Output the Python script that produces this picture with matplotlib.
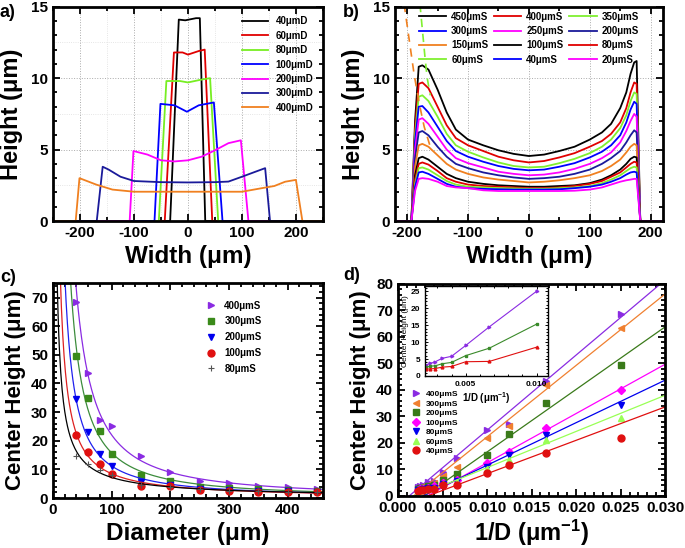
import numpy as np
import matplotlib
matplotlib.use("Agg")
import matplotlib.pyplot as plt
from matplotlib.ticker import MultipleLocator, FormatStrFormatter

plt.rcParams["font.family"] = ["Liberation Sans", "DejaVu Sans"]
plt.rcParams["font.weight"] = "bold"
plt.rcParams["axes.labelweight"] = "bold"
plt.rcParams["axes.unicode_minus"] = False
plt.rcParams["mathtext.fontset"] = "custom"
plt.rcParams["mathtext.rm"] = "Liberation Sans:bold"
plt.rcParams["mathtext.bf"] = "Liberation Sans:bold"
plt.rcParams["mathtext.default"] = "bf"

# ---- panel a: profiles of single dots ----
a_labels = ["40μmD", "60μmD", "80μmD", "100μmD", "200μmD", "300μmD", "400μmD"]
a_colors = ["black", "#e00000", "#77ee22", "#0000ff", "#ff00ff", "#1a1a9a", "#f08020"]
a_x40 = [-250, -33, -17, -5, 15, 22, 32, 250]
a_y40 = [0, 0, 14.1, 14.05, 14.2, 14.2, 0, 0]
a_x60 = [-250, -43, -26, -10, 0, 20, 31, 45, 250]
a_y60 = [0, 0, 11.8, 11.8, 11.65, 11.9, 12.0, 0, 0]
a_x80 = [-250, -54, -40, -15, 0, 25, 41, 56, 250]
a_y80 = [0, 0, 9.8, 9.8, 9.7, 9.9, 10.0, 0, 0]
a_x100 = [-250, -62, -51, -25, -2, 20, 48, 64, 250]
a_y100 = [0, 0, 8.2, 8.1, 7.65, 8.1, 8.3, 0, 0]
a_x200 = [-250, -108, -101, -75, -50, -25, 0, 25, 50, 75, 98, 112, 250]
a_y200 = [0, 0, 4.9, 4.65, 4.25, 4.17, 4.25, 4.5, 4.95, 5.45, 5.65, 0, 0]
a_x300 = [-250, -169, -158, -147, -125, -100, -50, 0, 50, 75, 100, 125, 143, 152, 250]
a_y300 = [0, 0, 3.8, 3.6, 3.1, 2.8, 2.72, 2.7, 2.72, 2.76, 3.1, 3.45, 3.7, 0, 0]
a_x400 = [-250, -208, -201, -170, -140, -100, 0, 100, 137, 160, 180, 200, 212, 250]
a_y400 = [0, 0, 3.0, 2.55, 2.2, 2.05, 2.05, 2.05, 2.3, 2.45, 2.75, 2.88, 0, 0]
a_xs = [a_x40, a_x60, a_x80, a_x100, a_x200, a_x300, a_x400]
a_ys = [a_y40, a_y60, a_y80, a_y100, a_y200, a_y300, a_y400]

# ---- panel b: profiles of 200 um dots ----
b_labels = ["450μmS", "400μmS", "350μmS", "300μmS", "250μmS", "200μmS",
            "150μmS", "100μmS", "80μmS", "60μmS", "40μmS", "20μmS"]
b_colors = ["black", "#e00000", "#80f030", "#0000ff", "#ff00ff", "#1a1a9a",
            "#f08020", "black", "#e00000", "#80f030", "#0000ff", "#ff00ff"]
b_x = [-220, -193, -187, -181, -175, -165, -150, -135, -120, -100, -75, -50, -25, 0,
       25, 50, 75, 100, 120, 135, 150, 160, 167, 173, 177, 183, 220]
b_y450 = [0, 0, 7.0, 10.8, 10.9, 10.6, 9.2, 7.6, 6.4, 5.7, 5.3, 4.95, 4.7, 4.55,
          4.65, 4.9, 5.2, 5.7, 6.2, 6.8, 7.9, 9.0, 10.3, 11.1, 11.2, 0, 0]
b_y400 = [0, 0, 6.5, 9.6, 9.7, 9.3, 8.0, 6.7, 5.8, 5.3, 4.9, 4.5, 4.25, 4.1,
          4.2, 4.45, 4.75, 5.2, 5.6, 6.1, 6.9, 7.9, 9.0, 9.7, 9.6, 0, 0]
b_y350 = [0, 0, 6.0, 8.7, 8.8, 8.4, 7.3, 6.1, 5.3, 4.85, 4.45, 4.1, 3.85, 3.75,
          3.8, 4.05, 4.35, 4.75, 5.2, 5.7, 6.5, 7.4, 8.4, 9.0, 8.9, 0, 0]
b_y300 = [0, 0, 5.6, 8.0, 8.05, 7.6, 6.6, 5.6, 4.9, 4.5, 4.15, 3.85, 3.65, 3.55,
          3.6, 3.8, 4.05, 4.45, 4.85, 5.3, 6.0, 6.9, 7.8, 8.35, 8.2, 0, 0]
b_y250 = [0, 0, 5.0, 7.1, 7.2, 6.8, 5.9, 5.0, 4.4, 4.05, 3.75, 3.45, 3.3, 3.2,
          3.25, 3.4, 3.65, 4.0, 4.4, 4.8, 5.5, 6.3, 7.0, 7.5, 7.3, 0, 0]
b_y200 = [0, 0, 4.4, 6.2, 6.3, 6.0, 5.2, 4.5, 4.0, 3.7, 3.4, 3.2, 3.05, 2.95,
          3.0, 3.1, 3.3, 3.6, 4.0, 4.4, 4.9, 5.5, 6.0, 6.35, 6.2, 0, 0]
b_y150 = [0, 0, 3.8, 5.3, 5.4, 5.2, 4.6, 4.0, 3.6, 3.3, 3.05, 2.9, 2.8, 2.7,
          2.75, 2.85, 3.0, 3.2, 3.5, 3.85, 4.3, 4.8, 5.2, 5.4, 5.3, 0, 0]
b_y100 = [0, 0, 3.2, 4.4, 4.5, 4.3, 3.8, 3.3, 3.0, 2.75, 2.6, 2.5, 2.45, 2.4,
          2.4, 2.45, 2.5, 2.65, 2.9, 3.2, 3.6, 4.0, 4.35, 4.5, 4.45, 0, 0]
b_y80 = [0, 0, 2.9, 4.0, 4.1, 3.95, 3.5, 3.0, 2.75, 2.55, 2.45, 2.4, 2.35, 2.3,
         2.3, 2.35, 2.45, 2.6, 2.8, 3.1, 3.4, 3.75, 4.0, 4.15, 4.1, 0, 0]
b_y60 = [0, 0, 2.6, 3.7, 3.75, 3.6, 3.2, 2.8, 2.55, 2.4, 2.35, 2.3, 2.28, 2.25,
         2.25, 2.3, 2.35, 2.45, 2.65, 2.9, 3.2, 3.5, 3.7, 3.8, 3.75, 0, 0]
b_y40 = [0, 0, 2.4, 3.4, 3.45, 3.3, 2.95, 2.6, 2.4, 2.3, 2.25, 2.22, 2.2, 2.2,
         2.2, 2.22, 2.3, 2.4, 2.55, 2.75, 3.0, 3.25, 3.4, 3.45, 3.4, 0, 0]
b_y20 = [0, 0, 2.1, 2.95, 3.0, 2.95, 2.75, 2.45, 2.35, 2.3, 2.15, 2.1, 2.1, 2.1,
         2.1, 2.1, 2.12, 2.2, 2.35, 2.55, 2.75, 2.85, 2.9, 2.95, 2.95, 0, 0]
b_ys = [b_y450, b_y400, b_y350, b_y300, b_y250, b_y200,
        b_y150, b_y100, b_y80, b_y60, b_y40, b_y20]
b_dash_orange_x = [-205, -197, -189, -181, -172, -162]
b_dash_orange_y = [15.2, 12.8, 10.4, 8.4, 6.6, 5.2]
b_dash_green_x = [-179, -175, -171, -167, -162]
b_dash_green_y = [15.2, 13.4, 11.6, 10.0, 8.8]

# ---- panels c, d: centre height vs diameter ----
diam = [40, 60, 80, 100, 150, 200, 250, 300, 350, 400, 450]
h400 = [68.5, 43.5, 27.3, 25.0, 14.5, 9.0, 5.8, 5.2, 4.2, 3.7, 3.3]
h300 = [63.5, 42.0, 26.5, 22.0, 10.8, 7.5, 5.0, 4.3, 3.8, 3.3, 3.0]
h200 = [49.5, 35.0, 23.5, 15.3, 8.2, 6.0, 4.0, 3.6, 3.0, 2.9, 2.6]
h100 = [40.0, 25.5, 16.5, 12.3, 6.0, 5.0, 3.6, 3.1, 2.7, 2.5, 2.3]
h80 = [34.5, 23.0, 15.5, 11.1, 5.6, 4.5, 3.2, 2.9, 2.5, 2.3, 2.1]
h60 = [29.5, 21.0, 13.5, 10.0, 5.2, 4.4, 3.0, 2.7, 2.4, 2.2, 2.0]
h40 = [22.0, 16.2, 11.8, 8.5, 4.3, 4.2, 2.8, 2.6, 2.2, 2.1, 2.0]
h_small = [14.5, 11.8, 9.8, 8.0, 4.6, 3.8, 3.0, 2.6, 2.3, 2.1, 2.0]

c_labels = ["400μmS", "300μmS", "200μmS", "100μmS", "80μmS"]
c_series = [h400, h200, h80, h40, h_small]
c_colors = ["#8a2be2", "#3a8a1a", "#0000ee", "#e01010", "#555555"]
c_line_colors = ["#8a2be2", "#3c8c3c", "#2020ee", "#dd2020", "black"]
c_markers = [">", "s", "v", "o", "+"]

d_labels = ["400μmS", "300μmS", "200μmS", "100μmS", "80μmS", "60μmS", "40μmS"]
d_series = [h400, h300, h200, h100, h80, h60, h40]
d_colors = ["#8a2be2", "#f08030", "#3a7a1a", "#ff00ff", "#0000ee", "#99ff55", "#e01010"]
d_markers = [">", "<", "s", "D", "v", "^", "o"]
d_slope = [2835, 2695, 2360, 1860, 1605, 1365, 1260]
d_icept = [-3.55, -4.65, -7.0, -6.1, -4.45, -2.95, -4.2]


def style(ax):
    for s in ax.spines.values():
        s.set_linewidth(2)
    ax.tick_params(which="both", direction="in", top=True, right=True, width=1.3,
                   labelsize=11)
    ax.tick_params(which="major", length=5)
    ax.tick_params(which="minor", length=3)


fig = plt.figure(figsize=(6.85, 5.48), dpi=100)

# a
ax = fig.add_axes([0.0774, 0.5967, 0.394, 0.391])
for v in [-150, -50, 50, 150]:
    ax.axvline(v, color="#dddddd", lw=0.6, ls=":", zorder=0)
for v in [2.5, 7.5, 12.5]:
    ax.axhline(v, color="#dddddd", lw=0.6, ls=":", zorder=0)
ax.grid(True, ls=":", color="#aaaaaa", lw=0.7)
for xs, ys, c, lab in zip(a_xs, a_ys, a_colors, a_labels):
    ax.plot(xs, ys, color=c, lw=1.3, label=lab)
ax.set_xlim(-250, 250)
ax.set_ylim(0, 15)
ax.xaxis.set_major_locator(MultipleLocator(100))
ax.xaxis.set_minor_locator(MultipleLocator(50))
ax.yaxis.set_major_locator(MultipleLocator(5))
ax.yaxis.set_minor_locator(MultipleLocator(1))
style(ax)
ax.set_xlabel("Width (μm)", fontsize=17.5, labelpad=4)
ax.set_ylabel("Height (μm)", fontsize=17, labelpad=6)
ax.legend(loc="upper right", frameon=False, fontsize=7, handlelength=2.6,
          labelspacing=0.45, borderaxespad=0.6)

# b
ax = fig.add_axes([0.5766, 0.5967, 0.391, 0.391])
ax.grid(True, ls=":", color="#aaaaaa", lw=0.7)
handles = []
for ys, c, lab in zip(b_ys, b_colors, b_labels):
    h, = ax.plot(b_x, ys, color=c, lw=1.3, label=lab)
    handles.append(h)
ax.plot(b_dash_orange_x, b_dash_orange_y, color="#f08020", lw=1.2, ls=(0, (5, 4)))
ax.plot(b_dash_green_x, b_dash_green_y, color="#80f030", lw=1.2, ls=(0, (5, 4)))
ax.set_xlim(-220, 220)
ax.set_ylim(0, 15)
ax.xaxis.set_major_locator(MultipleLocator(100))
ax.xaxis.set_minor_locator(MultipleLocator(50))
ax.yaxis.set_major_locator(MultipleLocator(5))
ax.yaxis.set_minor_locator(MultipleLocator(1))
style(ax)
ax.set_xlabel("Width (μm)", fontsize=17.5, labelpad=4)
ax.set_ylabel("Height (μm)", fontsize=17, labelpad=6)
order = [0, 3, 6, 9, 1, 4, 7, 10, 2, 5, 8, 11]
ax.legend([handles[i] for i in order], [b_labels[i] for i in order],
          loc="upper center", ncol=3, frameon=False, fontsize=7, handlelength=2.8,
          labelspacing=0.45, columnspacing=0.6, handletextpad=0.5,
          borderaxespad=0.1, bbox_to_anchor=(0.5, 1.0))

# c
ax = fig.add_axes([0.0774, 0.0912, 0.394, 0.392])
dd = np.linspace(4, 460, 400)
for ys, c, lc, m, lab in zip(c_series, c_colors, c_line_colors, c_markers, c_labels):
    p = np.polyfit(np.log(diam), np.log(ys), 1)
    ax.plot(dd, np.exp(np.polyval(p, np.log(dd))), color=lc, lw=0.9)
    if m == "+":
        ax.plot(diam, ys, ls="none", marker=m, color=c, ms=5, mew=0.8, label=lab)
    else:
        ax.plot(diam, ys, ls="none", marker=m, color=c, ms=5, label=lab)
ax.set_xlim(0, 460)
ax.set_ylim(0, 75)
ax.xaxis.set_major_locator(MultipleLocator(100))
ax.xaxis.set_minor_locator(MultipleLocator(20))
ax.yaxis.set_major_locator(MultipleLocator(10))
ax.yaxis.set_minor_locator(MultipleLocator(2))
style(ax)
ax.set_xlabel("Diameter (μm)", fontsize=17.5, labelpad=4)
ax.set_ylabel("Center Height (μm)", fontsize=16, labelpad=4)
ax.legend(loc="upper left", frameon=False, fontsize=7, handlelength=1.2,
          labelspacing=0.6, bbox_to_anchor=(0.53, 0.96))

# d
ax = fig.add_axes([0.581, 0.0949, 0.390, 0.387])
xx = np.linspace(0, 0.03, 50)
inv_d = 1.0 / np.array(diam)
for ys, c, m, lab, s, b in zip(d_series, d_colors, d_markers, d_labels, d_slope, d_icept):
    ax.plot(xx, s * xx + b, color=c, lw=0.9)
    ax.plot(inv_d, ys, ls="none", marker=m, color=c, ms=5 if m != "D" else 4.5, label=lab)
ax.set_xlim(0, 0.03)
ax.set_ylim(0, 80)
ax.xaxis.set_major_locator(MultipleLocator(0.005))
ax.xaxis.set_minor_locator(MultipleLocator(0.001))
ax.yaxis.set_major_locator(MultipleLocator(10))
ax.yaxis.set_minor_locator(MultipleLocator(2))
ax.xaxis.set_major_formatter(FormatStrFormatter("%.3f"))
style(ax)
ax.set_xlabel("1/D (μm$^{-1}$)", fontsize=17, labelpad=2)
ax.set_ylabel("Center Height (μm)", fontsize=16, labelpad=4)
ax.legend(loc="center left", frameon=False, fontsize=6, handlelength=1.2,
          labelspacing=0.2, handletextpad=0.6, bbox_to_anchor=(0.02, 0.345))

# inset of d
ins = fig.add_axes([0.6204, 0.3139, 0.1796, 0.164])
ins_idx = slice(3, 11)
for ys, c, m in zip([h400, h200, h40], ["#8a2be2", "#3a8a2a", "#e01010"], [">", "s", "^"]):
    ins.plot(inv_d[ins_idx], ys[ins_idx], color=c, lw=0.8, marker=m, ms=2)
ins.set_xlim(0.00213, 0.0108)
ins.set_ylim(0, 26.5)
ins.xaxis.set_major_locator(MultipleLocator(0.005))
ins.xaxis.set_minor_locator(MultipleLocator(0.001))
ins.yaxis.set_major_locator(MultipleLocator(5))
ins.yaxis.set_minor_locator(MultipleLocator(1))
ins.xaxis.set_major_formatter(FormatStrFormatter("%.3f"))
for s in ins.spines.values():
    s.set_linewidth(1)
ins.tick_params(which="both", direction="in", top=True, right=True, labelsize=6, width=0.7)
ins.tick_params(which="major", length=2.5)
ins.tick_params(which="minor", length=1.5)
ins.set_xlabel("1/D (μm$^{-1}$)", fontsize=7, labelpad=2)
ins.set_ylabel("Center Height (μm)", fontsize=6, fontweight="normal", labelpad=1)

fig.text(0.0, 0.978, "a)", fontsize=13, fontweight="bold", va="center")
fig.text(0.501, 0.978, "b)", fontsize=13, fontweight="bold", va="center")
fig.text(0.0, 0.493, "c)", fontsize=13, fontweight="bold", va="center")
fig.text(0.501, 0.497, "d)", fontsize=13, fontweight="bold", va="center")

fig.savefig("out.png", dpi=100)
